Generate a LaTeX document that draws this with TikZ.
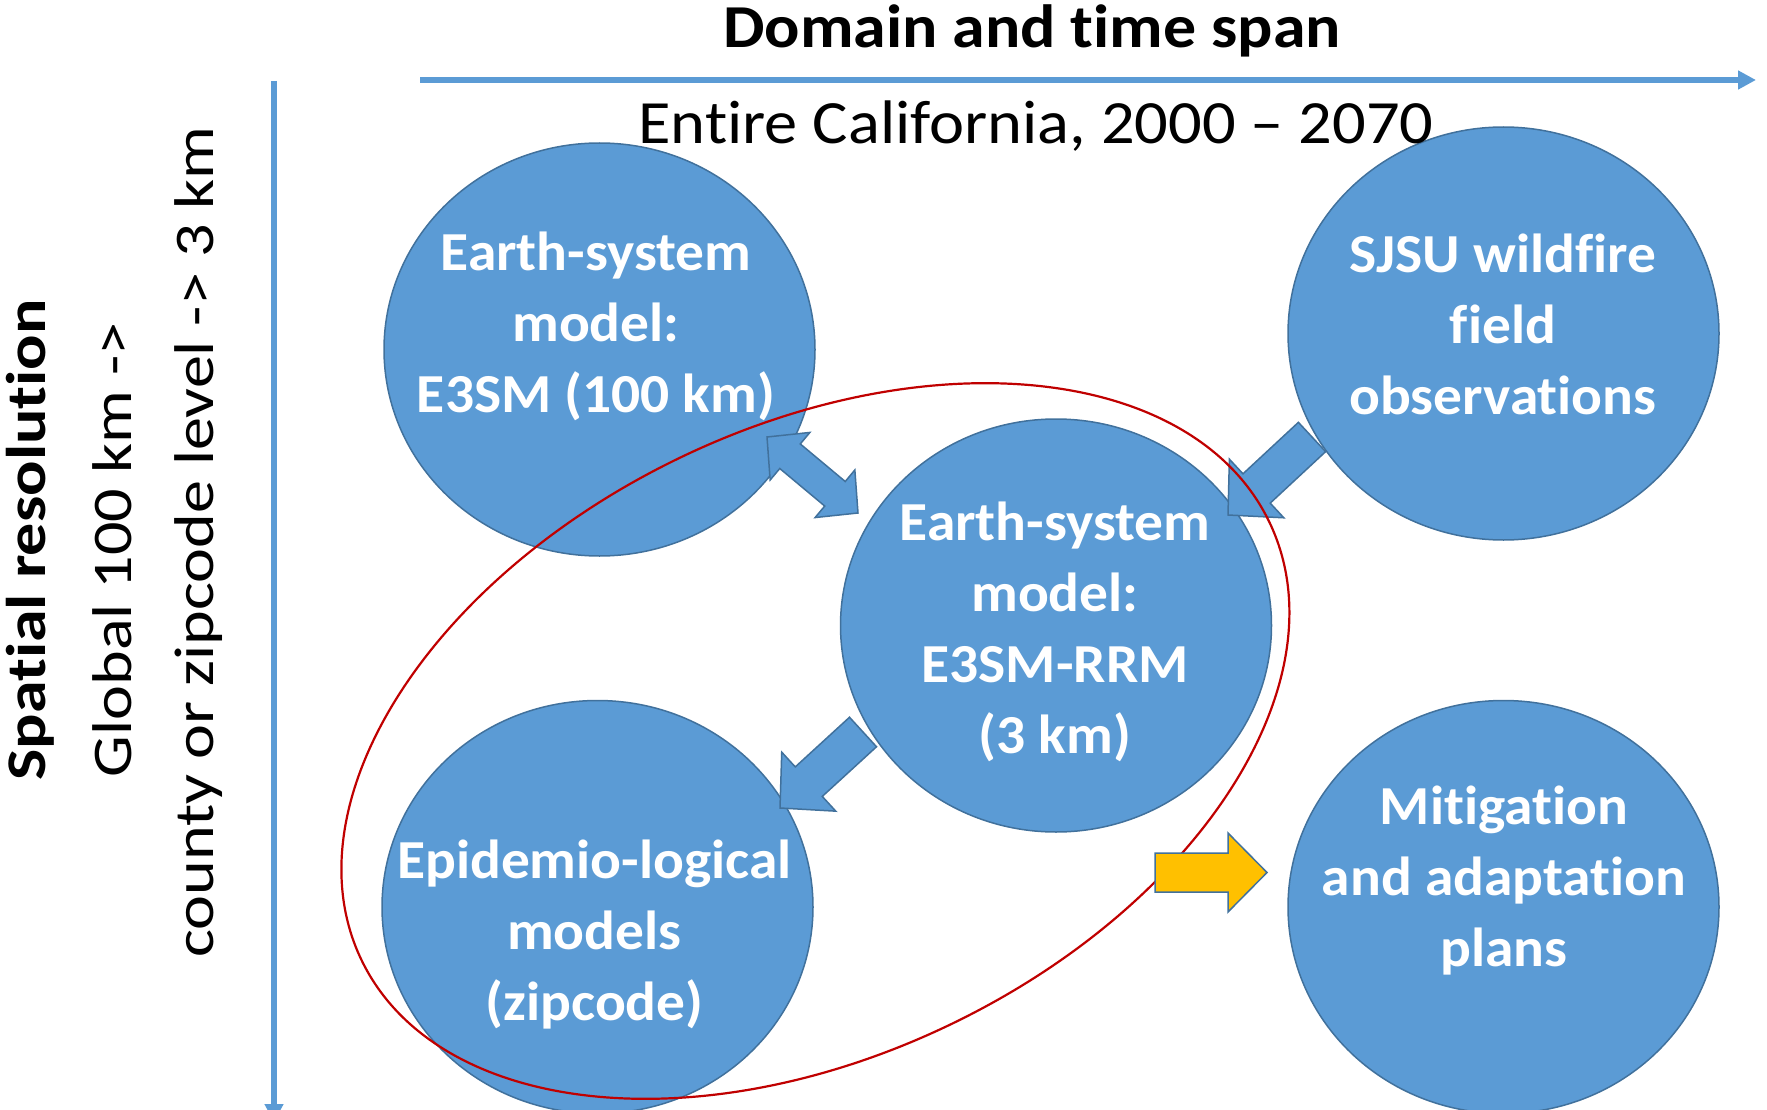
\documentclass[tikz,border=0pt]{standalone}
\usepackage{fontspec}
\setmainfont{Carlito}[Ligatures={NoCommon,NoContextual,NoRequired},Contextuals={NoAlternate}]
\usepackage{graphicx}
\usetikzlibrary{calc,arrows.meta,shapes.geometric}
\definecolor{bubblue}{HTML}{5B9BD5}
\definecolor{bubedge}{HTML}{41719C}
\definecolor{ovalred}{HTML}{C00000}
\definecolor{arrowyellow}{HTML}{FFC000}
\newcommand{\nlg}{\kern0pt }
\newcommand{\bubtxt}[1]{\scalebox{1.045}[1]{\begin{tabular}{@{}c@{}}#1\end{tabular}}}
% single block arrow: style, tail, tip, shaft half width, head half width, head length
\newcommand{\blkarrow}[6]{%
  \path ($(#3)!#6!(#2)$) coordinate (sa-b);
  \draw[#1] ($(#2)!#4!90:(#3)$) -- ($(sa-b)!#4!90:(#3)$) -- ($(sa-b)!#5!90:(#3)$) -- (#3)
    -- ($(sa-b)!#5!-90:(#3)$) -- ($(sa-b)!#4!-90:(#3)$) -- ($(#2)!#4!-90:(#3)$) -- cycle;}
% double block arrow: style, tip1, tip2, shaft half width, head half width, head length
\newcommand{\blkdarrow}[6]{%
  \path ($(#2)!#6!(#3)$) coordinate (da-a) ($(#3)!#6!(#2)$) coordinate (da-b);
  \draw[#1] (#2) -- ($(da-a)!#5!90:(#3)$) -- ($(da-a)!#4!90:(#3)$) -- ($(da-b)!#4!-90:(#2)$)
    -- ($(da-b)!#5!-90:(#2)$) -- (#3) -- ($(da-b)!#5!90:(#2)$) -- ($(da-b)!#4!90:(#2)$)
    -- ($(da-a)!#4!-90:(#3)$) -- ($(da-a)!#5!-90:(#3)$) -- cycle;}
\begin{document}
\begin{tikzpicture}[x=1pt,y=-1pt,
  bubble/.style={ellipse, draw=bubedge, line width=1.5pt, fill=bubblue,
    minimum width=431pt, minimum height=413pt, inner sep=0pt},
  bubtext/.style={text=white, font=\fontsize{55}{71}\selectfont\bfseries, inner sep=0pt},
  axisline/.style={draw=bubblue, line width=6.5pt, -{Triangle[length=18pt,width=18pt]}},
  blockarr/.style={fill=bubblue, draw=bubedge, line width=1.5pt, line join=miter},
  yellowarr/.style={fill=arrowyellow, draw=bubedge, line width=1.5pt, line join=miter},
  oval/.style={draw=ovalred, line width=2.2pt},
  titletext/.style={font=\fontsize{61}{73}\selectfont\bfseries, inner sep=0pt, anchor=base},
  subtext/.style={font=\fontsize{61.5}{73}\selectfont, inner sep=0pt, anchor=base},
  sidebold/.style={font=\fontsize{56}{67}\selectfont\bfseries, inner sep=0pt, rotate=90},
  sidetext/.style={font=\fontsize{56}{67}\selectfont, inner sep=0pt, rotate=90}
]
\useasboundingbox (0,0) rectangle (1767,1110);
\clip (0,0) rectangle (1767,1110);

% bubbles
\node[bubble] (esm) at (599.5,349.5) {};
\node[bubble] (sjsu) at (1503.5,333.5) {};
\node[bubble] (rrm) at (1056,625.5) {};
\node[bubble] (epi) at (597.5,907) {};
\node[bubble] (mit) at (1503.5,907) {};

\node[bubtext] (esmtext) at (596,327) {\bubtxt{Earth-system\\model:\\E3SM (100 km)}};
\node[bubtext] (sjsutext) at (1503,329) {\bubtxt{SJSU wildf\nlg ire\\f\nlg ield\\observat\nlg ions}};
\node[bubtext] (rrmtext) at (1055,632.5) {\bubtxt{Earth-system\\model:\\E3SM-RRM\\(3 km)}};
\node[bubtext] (epitext) at (594.5,935.5) {\bubtxt{Epidemio-logical\\models\\(zipcode)}};
\node[bubtext] (mittext) at (1504,881.5) {\bubtxt{Mit\nlg igat\nlg ion\\and adaptat\nlg ion\\plans}};

% axes
\coordinate (hs) at (420,80);
\coordinate (he) at (1756,80);
\draw[axisline] (hs) -- (he);
\coordinate (vs) at (274,81);
\coordinate (ve) at (274,1122);
\draw[axisline] (vs) -- (ve);

% header and side texts
\node[titletext] (title) at (1032,48) {\scalebox{1.08}[1]{Domain and t\nlg ime span}};
\node[subtext] (subtitle) at (1036,144) {\scalebox{1.08}[1]{Ent\nlg ire California, 2000 – 2070}};
\node[sidebold] (spatial) at (30,540) {\scalebox{1.18}[1]{Spat\nlg ial resolut\nlg ion}};
\node[sidetext] (global) at (112,550) {\scalebox{1.18}[1]{Global 100 km ->}};
\node[sidetext] (county) at (199,542) {\scalebox{1.18}[1]{county or zipcode level -> 3 km}};

% block arrows
\coordinate (d1) at (767,437);
\coordinate (d2) at (858,513);
\blkdarrow{blockarr}{d1}{d2}{16pt}{31pt}{30pt}
\coordinate (s1) at (1312,437);
\coordinate (s2) at (1228,515);
\blkarrow{blockarr}{s1}{s2}{20pt}{40pt}{39pt}
\coordinate (r1) at (863,732);
\coordinate (r2) at (780,808);
\blkarrow{blockarr}{r1}{r2}{20pt}{40pt}{39pt}

% red oval
\draw[oval, rotate around={25.8:(815.4,741)}] (815.4,741) ellipse [x radius=504pt, y radius=314pt];

% yellow arrow
\coordinate (y1) at (1155,872.5);
\coordinate (y2) at (1267,872.5);
\blkarrow{yellowarr}{y1}{y2}{19.5pt}{39.5pt}{39pt}
\end{tikzpicture}
\end{document}
